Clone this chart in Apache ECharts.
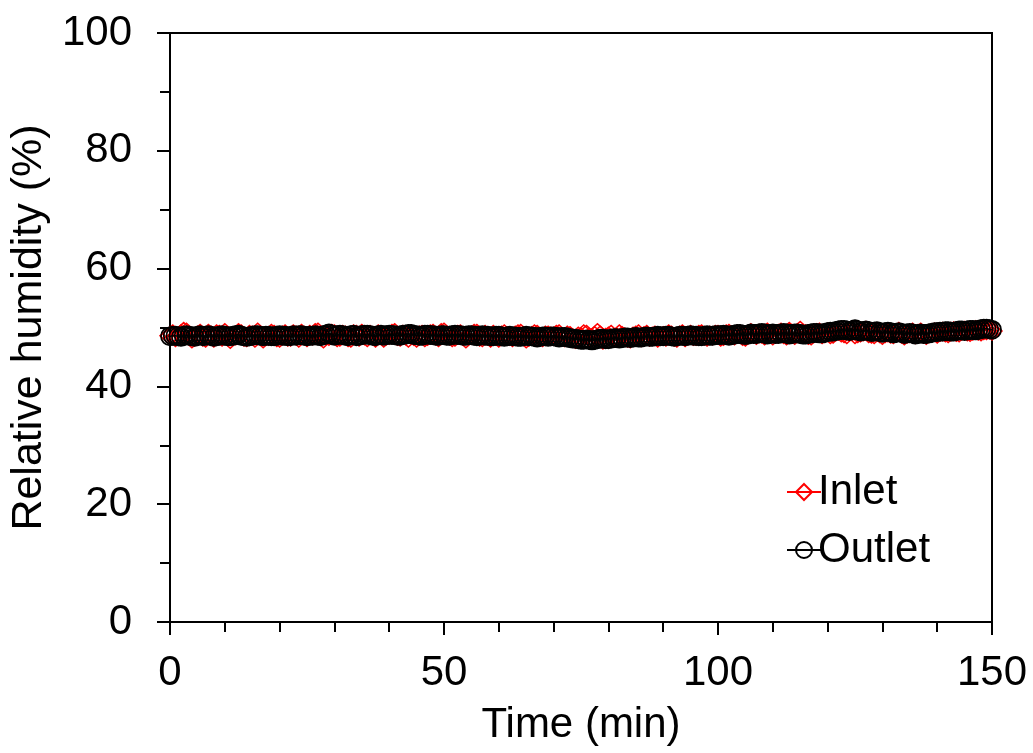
<!DOCTYPE html>
<html>
<head>
<meta charset="utf-8">
<script src="https://cdn.jsdelivr.net/npm/echarts@6/dist/echarts.min.js"></script>
<style>
html,body{margin:0;padding:0;background:#fff;}
#chart{width:1033px;height:753px;}
</style>
</head>
<body>
<div id="chart"></div>
<script>
var timeMin = [
0,0.5,1,1.5,2,2.5,3,3.5,4,4.5,5,5.5,6,6.5,7,7.5,8,8.5,9,9.5,
10,10.5,11,11.5,12,12.5,13,13.5,14,14.5,15,15.5,16,16.5,17,17.5,18,18.5,19,19.5,
20,20.5,21,21.5,22,22.5,23,23.5,24,24.5,25,25.5,26,26.5,27,27.5,28,28.5,29,29.5,
30,30.5,31,31.5,32,32.5,33,33.5,34,34.5,35,35.5,36,36.5,37,37.5,38,38.5,39,39.5,
40,40.5,41,41.5,42,42.5,43,43.5,44,44.5,45,45.5,46,46.5,47,47.5,48,48.5,49,49.5,
50,50.5,51,51.5,52,52.5,53,53.5,54,54.5,55,55.5,56,56.5,57,57.5,58,58.5,59,59.5,
60,60.5,61,61.5,62,62.5,63,63.5,64,64.5,65,65.5,66,66.5,67,67.5,68,68.5,69,69.5,
70,70.5,71,71.5,72,72.5,73,73.5,74,74.5,75,75.5,76,76.5,77,77.5,78,78.5,79,79.5,
80,80.5,81,81.5,82,82.5,83,83.5,84,84.5,85,85.5,86,86.5,87,87.5,88,88.5,89,89.5,
90,90.5,91,91.5,92,92.5,93,93.5,94,94.5,95,95.5,96,96.5,97,97.5,98,98.5,99,99.5,
100,100.5,101,101.5,102,102.5,103,103.5,104,104.5,105,105.5,106,106.5,107,107.5,108,108.5,109,109.5,
110,110.5,111,111.5,112,112.5,113,113.5,114,114.5,115,115.5,116,116.5,117,117.5,118,118.5,119,119.5,
120,120.5,121,121.5,122,122.5,123,123.5,124,124.5,125,125.5,126,126.5,127,127.5,128,128.5,129,129.5,
130,130.5,131,131.5,132,132.5,133,133.5,134,134.5,135,135.5,136,136.5,137,137.5,138,138.5,139,139.5,
140,140.5,141,141.5,142,142.5,143,143.5,144,144.5,145,145.5,146,146.5,147,147.5,148,148.5,149,149.5,
150
];
var inletRH = [
48.6,48.9,48.3,48.5,48.9,49.3,49.2,48.6,48.1,48.4,48.7,49.0,48.4,48.2,49.0,48.7,48.2,48.9,48.8,48.4,
49.1,48.6,48.0,48.5,48.6,49.1,48.9,48.4,48.3,48.8,48.7,48.2,49.2,48.7,48.1,48.5,48.5,49.0,48.8,48.3,
48.2,48.7,48.9,48.4,48.4,48.9,48.7,48.2,49.0,48.6,48.3,48.8,48.6,49.1,49.2,48.5,48.1,48.7,48.5,49.0,
48.9,48.3,48.4,48.8,48.7,48.3,48.2,48.9,48.8,48.4,49.0,48.6,48.3,48.8,48.6,48.2,48.9,48.7,48.2,48.6,
48.7,49.0,49.1,48.5,48.4,48.8,48.6,48.2,48.9,48.5,48.2,48.7,48.8,48.3,48.5,48.9,49.0,48.6,48.3,49.1,
49.2,48.7,48.6,48.3,48.4,48.8,48.9,48.5,48.1,48.6,48.7,49.0,49.0,48.4,48.3,48.8,48.6,48.2,48.8,48.5,
48.2,48.7,48.9,48.5,48.5,48.3,48.7,48.9,49.0,48.6,48.1,48.4,48.6,48.9,48.8,48.4,48.3,48.7,48.7,48.5,
48.5,48.8,48.9,48.4,48.3,48.7,48.6,48.2,48.0,48.5,48.4,48.9,48.8,48.3,48.2,48.6,49.1,48.7,47.9,48.3,
48.5,48.8,48.2,48.4,48.9,48.6,48.4,48.2,48.1,48.5,48.7,48.9,48.3,48.6,48.8,48.4,48.5,48.7,48.2,48.5,
48.6,48.4,48.9,48.7,48.4,48.2,48.7,48.9,48.3,48.6,48.8,48.5,48.5,48.8,48.9,48.6,48.4,48.7,48.6,48.8,
48.8,48.4,48.5,48.9,49.0,48.7,48.6,48.9,48.9,48.5,48.4,48.8,49.1,48.9,48.7,49.0,48.9,48.6,49.2,48.9,
48.6,48.9,49.0,49.2,48.8,48.6,49.3,49.0,48.7,49.1,49.5,49.0,48.9,48.7,48.6,49.0,49.1,49.2,48.8,49.0,
49.2,48.8,48.9,49.3,49.4,49.1,49.0,48.8,49.3,49.4,48.8,49.0,49.1,49.3,49.5,49.0,48.9,48.8,49.2,49.0,
48.7,49.0,49.1,48.9,48.8,49.1,49.3,48.9,48.6,48.9,49.0,49.2,48.8,49.0,49.2,48.9,48.7,49.0,49.1,49.2,
48.9,49.2,49.3,49.1,49.0,49.3,49.4,49.2,49.1,49.4,49.5,49.3,49.2,49.4,49.6,49.4,49.3,49.5,49.5,49.6,
49.4
];
var outletRH = [
48.5,48.6,48.6,48.5,48.4,48.6,48.7,48.6,48.5,48.4,48.6,48.7,48.5,48.6,48.7,48.6,48.4,48.5,48.6,48.7,
48.6,48.5,48.5,48.6,48.7,48.8,48.6,48.5,48.4,48.5,48.6,48.7,48.7,48.6,48.5,48.6,48.6,48.5,48.5,48.6,
48.7,48.6,48.6,48.5,48.5,48.7,48.6,48.7,48.7,48.6,48.5,48.6,48.6,48.7,48.6,48.5,48.7,48.8,49.0,48.8,
48.6,48.7,48.8,48.7,48.6,48.5,48.7,48.8,48.5,48.6,48.7,48.8,48.8,48.7,48.6,48.5,48.7,48.8,48.6,48.7,
48.8,48.7,48.7,48.6,48.6,48.8,48.8,48.9,48.9,48.7,48.7,48.6,48.6,48.8,48.8,48.7,48.7,48.6,48.6,48.7,
48.7,48.6,48.6,48.7,48.8,48.7,48.7,48.6,48.6,48.7,48.7,48.6,48.5,48.6,48.7,48.6,48.6,48.5,48.5,48.6,
48.6,48.5,48.4,48.5,48.6,48.5,48.5,48.4,48.4,48.5,48.6,48.5,48.5,48.4,48.3,48.4,48.5,48.5,48.4,48.5,
48.5,48.4,48.3,48.4,48.4,48.3,48.2,48.1,48.1,48.0,47.9,47.9,48.0,47.9,47.8,47.9,48.0,48.1,48.1,48.0,
48.0,48.1,48.2,48.2,48.1,48.2,48.3,48.3,48.2,48.3,48.4,48.3,48.3,48.4,48.5,48.4,48.4,48.5,48.6,48.5,
48.5,48.6,48.6,48.5,48.4,48.5,48.6,48.6,48.5,48.6,48.7,48.6,48.6,48.5,48.5,48.6,48.7,48.6,48.6,48.7,
48.7,48.7,48.8,48.7,48.6,48.7,48.8,48.9,48.9,48.8,48.7,48.8,49.0,48.9,48.9,49.0,49.1,49.0,48.8,48.9,
49.0,48.9,48.9,49.0,49.1,49.0,48.8,48.9,49.0,49.0,48.9,48.8,48.8,48.9,49.0,49.1,49.1,49.0,49.0,49.1,
49.2,49.3,49.3,49.4,49.5,49.6,49.6,49.5,49.4,49.5,49.7,49.5,49.3,49.4,49.5,49.4,49.2,49.3,49.4,49.2,
49.1,49.2,49.3,49.2,49.0,49.1,49.2,49.1,48.9,49.0,49.1,49.0,48.8,48.9,49.0,48.9,48.9,49.0,49.1,49.2,
49.2,49.3,49.3,49.4,49.4,49.3,49.3,49.4,49.5,49.5,49.4,49.5,49.6,49.6,49.5,49.6,49.7,49.8,49.8,49.7,
49.6
];
var seriesNames = ['Inlet', 'Outlet'];
var xTicks = [0, 50, 100, 150];
var yTicks = [0, 20, 40, 60, 80, 100];

function pairs(xs, ys) {
  var out = [];
  for (var i = 0; i < xs.length; i++) out.push([xs[i], ys[i]]);
  return out;
}

var FONT = '"Liberation Sans", Arial, sans-serif';
var chart = echarts.init(document.getElementById('chart'), null, {renderer: 'canvas'});
var axisCommon = {
  axisLine: {show: true, onZero: false, lineStyle: {color: '#000', width: 2}},
  axisTick: {show: true, inside: false, length: 13, lineStyle: {color: '#000', width: 2}},
  splitLine: {show: false},
  axisLabel: {color: '#000', fontSize: 42, fontFamily: FONT}
};
chart.setOption({
  backgroundColor: '#fff',
  animation: false,
  grid: {left: 170, right: 41, top: 33, bottom: 131, show: true, borderColor: '#000', borderWidth: 2, containLabel: false},
  legend: {
    orient: 'vertical', left: 781, top: 465,
    itemWidth: 34, itemHeight: 20, itemGap: 14,
    textStyle: {color: '#000', fontSize: 42, fontFamily: FONT, lineHeight: 44, padding: [0,0,0,-8]},
    data: seriesNames
  },
  xAxis: Object.assign({}, axisCommon, {
    type: 'value', min: xTicks[0], max: xTicks[xTicks.length-1], interval: 50,
    name: 'Time (min)', nameLocation: 'middle', nameGap: 82,
    nameTextStyle: {color: '#000', fontSize: 42, fontFamily: FONT},
    minorTick: {show: true, splitNumber: 5, length: 10, lineStyle: {color: '#000', width: 2}},
    axisLabel: Object.assign({}, axisCommon.axisLabel, {margin: 30})
  }),
  yAxis: Object.assign({}, axisCommon, {
    type: 'value', min: yTicks[0], max: yTicks[yTicks.length-1], interval: 20,
    name: 'Relative humidity (%)', nameLocation: 'middle', nameGap: 114,
    nameTextStyle: {color: '#000', fontSize: 43, fontFamily: FONT},
    minorTick: {show: true, splitNumber: 2, length: 10, lineStyle: {color: '#000', width: 2}},
    axisLabel: Object.assign({}, axisCommon.axisLabel, {margin: 38})
  }),
  series: [
    {
      name: seriesNames[0], type: 'line', data: pairs(timeMin, inletRH),
      symbol: 'diamond', symbolSize: [20, 18],
      lineStyle: {color: '#ff0000', width: 1.5},
      itemStyle: {color: 'rgba(0,0,0,0)', borderColor: '#ff0000', borderWidth: 1.5},
      z: 2
    },
    {
      name: seriesNames[1], type: 'line', data: pairs(timeMin, outletRH),
      symbol: 'circle', symbolSize: 18,
      lineStyle: {color: '#000', width: 1.5},
      itemStyle: {color: 'rgba(0,0,0,0)', borderColor: '#000', borderWidth: 1.8},
      z: 3
    }
  ]
});
</script>
</body>
</html>
